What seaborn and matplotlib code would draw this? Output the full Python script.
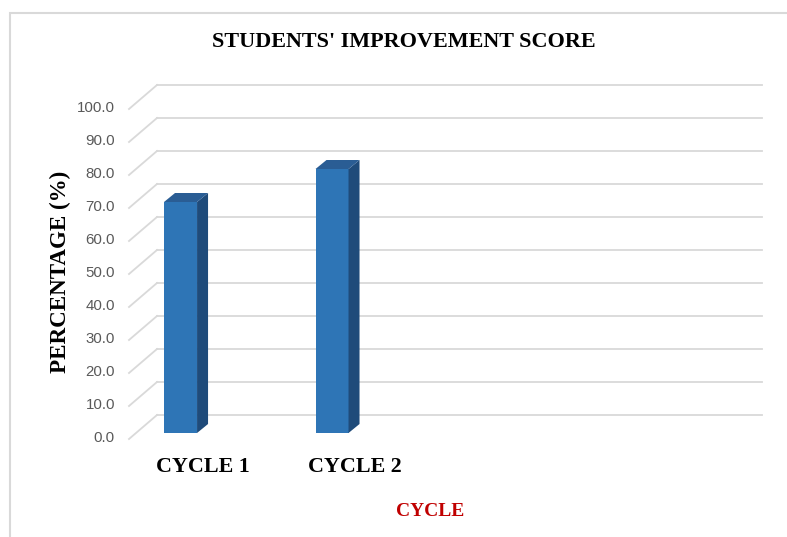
import matplotlib
matplotlib.use("Agg")
import matplotlib.pyplot as plt
from matplotlib.patches import Polygon, Rectangle
import seaborn as sns

cycles = ["CYCLE 1", "CYCLE 2"]
scores = [70.0, 80.0]
y_ticks = [0, 10, 20, 30, 40, 50, 60, 70, 80, 90, 100]

W, H = 787, 537
fig = plt.figure(figsize=(W / 100, H / 100), dpi=100)
ax = fig.add_axes([136 / W, 104 / H, 605 / W, 330 / H])

sns.barplot(x=cycles, y=scores, color="#2E75B6", saturation=1, width=0.218,
            ax=ax, zorder=3)
ax.set_xlim(-0.294, 3.70)
ax.set_ylim(0, 100)
ax.axis("off")

# pixel -> data unit helpers for the fake 3d depth
x0, x1 = ax.get_xlim()
sx = 605 / (x1 - x0)
sy = 330 / 100


def px(dx, dy):
    return dx / sx, dy / sy


grid_c = "#d9d9d9"
bx, by = px(21, 18)   # back wall
fx, fy = px(-7, -6)   # front edge of floor
for v in y_ticks:
    ax.plot([x0 + bx, x1 + bx], [v + by, v + by], color=grid_c, lw=1.3,
            zorder=1, clip_on=False)
    ax.plot([x0 + fx, x0 + bx], [v + fy, v + by], color=grid_c, lw=1.3,
            zorder=1, clip_on=False)
    ax.text(x0 + px(-21, 0)[0], v + px(0, -5)[1], f"{v:.1f}", ha="right",
            va="center", fontsize=10.8, color="#595959",
            family="Liberation Sans", clip_on=False)

# side and top faces of the bars
dx, dy = px(11, 9)
for p in ax.patches:
    xl = p.get_x()
    xr = xl + p.get_width()
    h = p.get_height()
    side = Polygon([(xr, 0), (xr, h), (xr + dx, h + dy), (xr + dx, dy)],
                   closed=True, fc="#1F4B7A", ec="none", zorder=3, clip_on=False)
    top = Polygon([(xl, h), (xr, h), (xr + dx, h + dy), (xl + dx, h + dy)],
                  closed=True, fc="#2A5D94", ec="none", zorder=3, clip_on=False)
    ax.add_patch(side)
    ax.add_patch(top)

serif = "Liberation Serif"
for i, c in enumerate(cycles):
    ax.text(i + px(22.5, 0)[0], px(0, -34)[1], c, ha="center", va="center",
            fontsize=15.8, fontweight="bold", family=serif, clip_on=False)

fig.text(403.5 / W, 1 - 42 / H, "STUDENTS' IMPROVEMENT SCORE", ha="center",
         va="center", fontsize=15.9, fontweight="bold", family=serif)
fig.text(60 / W, 1 - 272 / H, "PERCENTAGE (%)", ha="center", va="center",
         rotation=90, fontsize=16.6, fontweight="bold", family=serif)
fig.text(430 / W, 1 - 511 / H, "CYCLE", ha="center", va="center",
         fontsize=14, fontweight="bold", family=serif, color="#C00000")

# chart border (right and bottom edges fall outside the image)
fig.add_artist(Rectangle((10 / W, -0.1), 2, (1 - 13 / H) + 0.1,
                         transform=fig.transFigure, fill=False,
                         ec="#d9d9d9", lw=1.5))

fig.savefig("out.png", dpi=100)
